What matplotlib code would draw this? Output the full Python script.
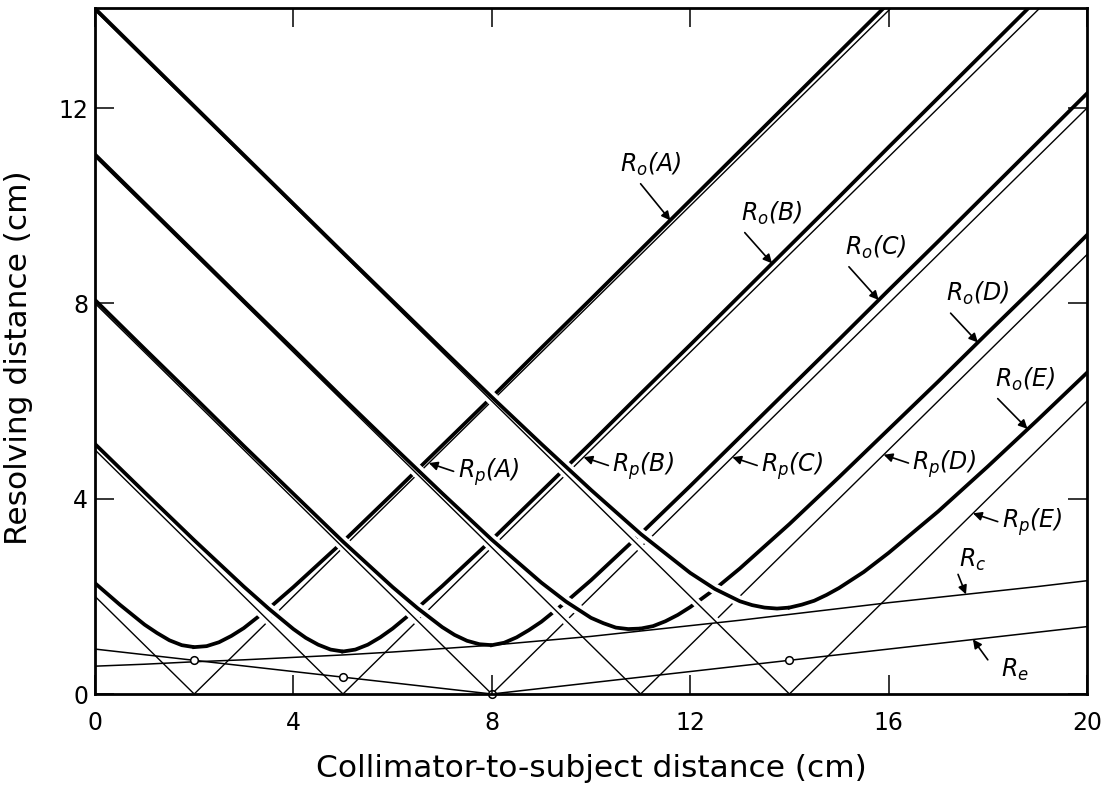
import matplotlib
matplotlib.use('Agg')
import matplotlib.pyplot as plt

plt.rcParams['font.family'] = ['DejaVu Sans']
plt.rcParams['mathtext.fontset'] = 'custom'
plt.rcParams['mathtext.rm'] = 'DejaVu Sans:italic'
plt.rcParams['mathtext.it'] = 'DejaVu Sans:italic'

# ---------------- data ----------------
curve_names = ['A', 'B', 'C', 'D', 'E']

# Rp: V-shaped lines, zero at these collimator-to-subject distances
rp_zero = [2, 5, 8, 11, 14]
rp_x = [[0, 2, 20], [0, 5, 20], [0, 8, 20], [0, 11, 20], [0, 14, 20]]
rp_y = [[2, 0, 18], [5, 0, 15], [8, 0, 12], [11, 0, 9], [14, 0, 6]]

# Ro curves
ro_x_A = [0, 0.5, 1, 1.25, 1.5, 1.75, 2, 2.25, 2.5, 2.75, 3, 3.5, 4, 5, 6, 7, 8,
          9, 10, 11, 12, 13, 14, 15, 16]
ro_y_A = [2.27, 1.83, 1.42, 1.25, 1.10, 1.00, 0.96, 0.98, 1.06, 1.19, 1.35, 1.75,
          2.19, 3.12, 4.10, 5.09, 6.08, 7.09, 8.09, 9.10, 10.11, 11.12, 12.13,
          13.14, 14.15]
ro_x_B = [0, 1, 2, 3, 3.5, 4, 4.25, 4.5, 4.75, 5, 5.25, 5.5, 5.75, 6, 6.5, 7, 8,
          9, 10, 11, 12, 13, 14, 15, 16, 17, 18, 19]
ro_y_B = [5.12, 4.13, 3.15, 2.20, 1.75, 1.33, 1.15, 1.01, 0.91, 0.87, 0.91, 1.01,
          1.16, 1.34, 1.76, 2.21, 3.16, 4.15, 5.14, 6.15, 7.15, 8.16, 9.17, 10.18,
          11.20, 12.21, 13.22, 14.23]
ro_x_C = [0, 1, 2, 3, 4, 5, 6, 6.5, 7, 7.25, 7.5, 7.75, 8, 8.25, 8.5, 8.75, 9,
          9.5, 10, 11, 12, 13, 14, 15, 16, 17, 18, 19, 20]
ro_y_C = [8.07, 7.07, 6.08, 5.08, 4.10, 3.12, 2.19, 1.76, 1.37, 1.21, 1.09, 1.02,
          1.00, 1.05, 1.16, 1.31, 1.48, 1.89, 2.33, 3.28, 4.26, 5.26, 6.26, 7.26,
          8.27, 9.27, 10.28, 11.29, 12.30]
ro_x_D = [0, 1, 2, 3, 4, 5, 6, 7, 8, 9, 9.5, 10, 10.25, 10.5, 10.75, 11, 11.25,
          11.5, 11.75, 12, 12.5, 13, 14, 15, 16, 17, 18, 19, 20]
ro_y_D = [11.05, 10.05, 9.05, 8.05, 7.06, 6.06, 5.08, 4.11, 3.16, 2.28, 1.89,
          1.56, 1.45, 1.36, 1.33, 1.34, 1.39, 1.49, 1.62, 1.78, 2.15, 2.57, 3.48,
          4.44, 5.42, 6.40, 7.40, 8.39, 9.40]
ro_x_E = [0, 1, 2, 3, 4, 5, 6, 7, 8, 9, 10, 11, 12, 12.5, 13, 13.25, 13.5, 13.75,
          14, 14.25, 14.5, 14.75, 15, 15.5, 16, 17, 18, 19, 20]
ro_y_E = [14.04, 13.04, 12.04, 11.04, 10.04, 9.04, 8.05, 7.06, 6.08, 5.12, 4.18,
          3.28, 2.48, 2.15, 1.90, 1.82, 1.77, 1.75, 1.77, 1.83, 1.91, 2.03, 2.17,
          2.50, 2.89, 3.74, 4.66, 5.61, 6.58]
ro_x = [ro_x_A, ro_x_B, ro_x_C, ro_x_D, ro_x_E]
ro_y = [ro_y_A, ro_y_B, ro_y_C, ro_y_D, ro_y_E]

# Rc and Re
rc_x = [0, 1, 2, 3, 4, 5, 6, 7, 8, 9, 10, 11, 12, 13, 14, 15, 16, 17, 18, 19, 20]
rc_y = [0.57, 0.61, 0.66, 0.70, 0.75, 0.80, 0.86, 0.93, 1.00, 1.09, 1.18, 1.29,
        1.40, 1.51, 1.63, 1.75, 1.87, 1.98, 2.09, 2.20, 2.32]
re_x = [0, 8, 20]
re_y = [0.92, 0.0, 1.38]
circle_x = [2, 5, 8, 14]
circle_y = [0.69, 0.35, 0.0, 0.69]

x_ticks = [0, 4, 8, 12, 16, 20]
y_ticks = [0, 4, 8, 12]

# ---------------- figure ----------------
W, H = 1109, 792
fig = plt.figure(figsize=(W / 100, H / 100), dpi=100)
L, R, T, B = 95, 1087, 8, 694
ax = fig.add_axes([L / W, 1 - B / H, (R - L) / W, (B - T) / H])

LW_THICK, LW_THIN, HALO = 2.7, 1.0, 5.0

for k, name in enumerate(curve_names):
    z = 10 + 4 * k
    a = rp_zero[k]
    i = ro_x[k].index(a)
    # descending parts (continuous, with white halo to break crossing lines)
    desc = [(rp_x[k][:2], rp_y[k][:2], LW_THIN),
            (ro_x[k][:i + 1], ro_y[k][:i + 1], LW_THICK)]
    for xs, ys, lw in desc:
        ax.plot(xs, ys, color='white', lw=lw + HALO, solid_capstyle='butt',
                zorder=z)
        ax.plot(xs, ys, color='black', lw=lw, solid_capstyle='butt',
                solid_joinstyle='round', zorder=z + 1)
    # rising parts
    ax.plot(rp_x[k][1:], rp_y[k][1:], color='black', lw=LW_THIN, zorder=z + 2)
    ax.plot(ro_x[k][i:], ro_y[k][i:], color='black', lw=LW_THICK,
            solid_joinstyle='round', zorder=z + 2)

ax.plot(rc_x, rc_y, color='black', lw=1.1, zorder=60)
ax.plot(re_x, re_y, color='black', lw=1.1, zorder=60)
ax.plot(circle_x, circle_y, 'o', ms=5.5, mfc='white', mec='black', mew=1.1,
        zorder=61, clip_on=False)

ax.set_xlim(0, 20)
ax.set_ylim(0, 14.05)
ax.set_xticks(x_ticks)
ax.set_yticks(y_ticks)
ax.tick_params(direction='in', length=14, width=1.1, top=True, right=True,
               labelsize=17, colors='black')
ax.tick_params(axis='x', pad=12)
ax.tick_params(axis='y', pad=5)
for sp in ax.spines.values():
    sp.set_linewidth(2.0)
    sp.set_zorder(100)
ax.xaxis.set_zorder(95)
ax.yaxis.set_zorder(95)

ax.set_xlabel('Collimator-to-subject distance (cm)', fontsize=22.5)
ax.set_ylabel('Resolving distance (cm)', fontsize=22.5)
ax.xaxis.set_label_coords(0.5, -0.088)
ax.yaxis.set_label_coords(-0.0625, 0.49)

# ---------------- annotations ----------------
arrow = dict(arrowstyle='-|>', color='black', lw=1.2, mutation_scale=13,
             shrinkA=0, shrinkB=0)
LBL = 17

ro_labels = [  # text centre, arrow start, arrow tip
    ((11.2, 10.85), (11.0, 10.45), (11.6, 9.7)),
    ((13.65, 9.85), (13.1, 9.45), (13.65, 8.82)),
    ((15.75, 9.15), (15.2, 8.75), (15.8, 8.07)),
    ((17.8, 8.2), (17.25, 7.8), (17.8, 7.2)),
    ((18.75, 6.45), (18.2, 6.05), (18.8, 5.43)),
]
for name, (tc, st, tip) in zip(curve_names, ro_labels):
    ax.text(tc[0], tc[1], r'$R_o(%s)$' % name, fontsize=LBL, ha='center',
            va='center', zorder=120)
    ax.annotate('', xy=tip, xytext=st, arrowprops=arrow, zorder=120)

rp_labels = [  # arrow tip on the line
    (6.73, 4.73), (9.85, 4.85), (12.85, 4.85), (15.9, 4.9), (17.7, 3.7)
]
for name, tip in zip(curve_names, rp_labels):
    st = (tip[0] + 0.5, tip[1] - 0.17)
    ax.annotate('', xy=tip, xytext=st, arrowprops=arrow, zorder=120)
    ax.text(st[0] + 0.08, st[1] - 0.02, r'$R_p(%s)$' % name, fontsize=LBL,
            ha='left', va='center', zorder=120)

ax.text(17.7, 2.75, r'$R_c$', fontsize=LBL, ha='center', va='center', zorder=120)
ax.annotate('', xy=(17.56, 2.04), xytext=(17.4, 2.45), arrowprops=arrow,
            zorder=120)
ax.text(18.55, 0.5, r'$R_e$', fontsize=LBL, ha='center', va='center', zorder=120)
ax.annotate('', xy=(17.7, 1.12), xytext=(18.0, 0.7), arrowprops=arrow,
            zorder=120)

fig.savefig('out.png', dpi=100)
